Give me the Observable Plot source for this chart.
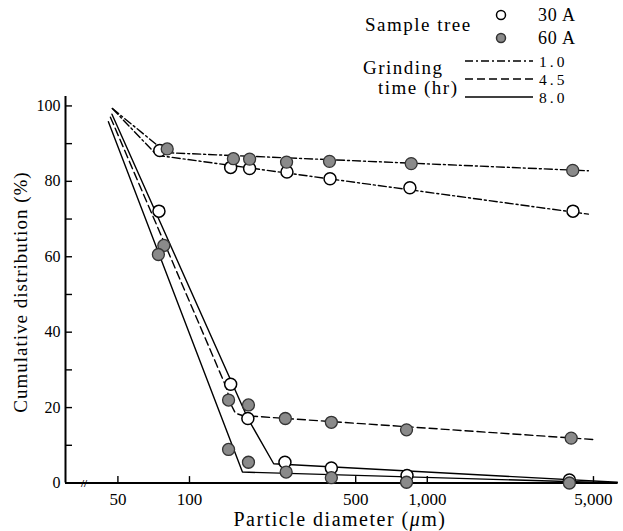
<!DOCTYPE html>
<html><head><meta charset="utf-8">
<script src="https://cdn.jsdelivr.net/npm/d3@7"></script>
<script src="https://cdn.jsdelivr.net/npm/@observablehq/plot@0.6"></script>
<style>
body{margin:0;background:#fff;}
#wrap{position:relative;width:623px;height:531px;}
#wrap svg, #wrap svg text{font-family:"Liberation Serif","Times New Roman","DejaVu Serif",serif !important;}
</style></head><body><div id="wrap"></div>
<script>
// Axis ticks
const xTicks = [50, 100, 500, 1000, 5000];
const yTicks = [0, 10, 20, 30, 40, 50, 60, 70, 80, 90, 100];
const yLabels = [0, 20, 40, 60, 80, 100];
const xDomain = [30.1, 6310];
const yDomain = [0, 102.5];
const breakX = [36];

// Legend entries
const sampleTrees = ["30 A", "60 A"];
const grindingTimes = ["1.0", "4.5", "8.0"];

// Measured points (particle diameter um, cumulative %)
const open10X = [75, 149, 179, 257, 390, 845, 4100];
const open10Y = [88.2, 83.7, 83.4, 82.5, 80.7, 78.3, 72.1];
const open80X = [74.4, 149, 176, 252, 395, 822, 3960];
const open80Y = [72.1, 26.2, 17.1, 5.5, 4.0, 2.0, 0.8];
const gray10X = [80.6, 153, 179, 256, 388, 856, 4090];
const gray10Y = [88.6, 86.0, 85.9, 85.1, 85.3, 84.7, 82.9];
const gray45X = [78, 146, 177, 253, 395, 818, 4030];
const gray45Y = [63, 22.0, 20.7, 17.1, 16.1, 14.1, 11.9];
const gray80X = [74, 146, 177, 255, 395, 818, 3960];
const gray80Y = [60.6, 8.9, 5.5, 2.9, 1.4, 0.2, 0];

// Fitted lines
const fit10aX = [47.4, 80, 4760];   const fit10aY = [99.3, 87.6, 82.8];   // 60 A, 1.0 hr
const fit10bX = [47.4, 73, 4760];   const fit10bY = [99.3, 86.9, 71.3];   // 30 A, 1.0 hr
const fit45X = [46.5, 143, 149, 156, 167, 5100]; const fit45Y = [97.0, 25.3, 21, 18.5, 17.9, 11.5];
const fit80aX = [45.6, 167, 6300];  const fit80aY = [95.8, 2.9, 0];       // 60 A, 8.0 hr
const fit80bX = [47.2, 176, 226, 6300]; const fit80bY = [97.8, 17.1, 5.1, 0.2]; // 30 A, 8.0 hr

const rows = (xs, ys, id) => xs.map((x, i) => ({x, y: ys[i], id}));
const openPts = [...rows(open10X, open10Y, "o1"), ...rows(open80X, open80Y, "o8")];
const grayPts = [...rows(gray10X, gray10Y, "g1"), ...rows(gray45X, gray45Y, "g45"), ...rows(gray80X, gray80Y, "g8")];
const dashDotLines = [...rows(fit10aX, fit10aY, "a"), ...rows(fit10bX, fit10bY, "b")];
const dashedLines = rows(fit45X, fit45Y, "c");
const solidLines = [...rows(fit80aX, fit80aY, "d"), ...rows(fit80bX, fit80bY, "e")];

const DASHDOT = "8,3,2,3", DASHED = "8,4";
const font = "Liberation Serif";
const yTickEnd = xDomain[0] * Math.pow(10, 7 / 237.85); // inward tick length (~7px)

const plot = Plot.plot({
  width: 623, height: 531,
  marginLeft: 65, marginRight: 6, marginTop: 96, marginBottom: 48.5,
  style: {fontFamily: font, background: "white", color: "black"},
  x: {type: "log", domain: xDomain, axis: null},
  y: {domain: yDomain, axis: null},
  marks: [
    // inward ticks
    Plot.ruleX(xTicks, {x: d => d, y1: 0, y2: 1.7, strokeWidth: 1.4}),
    Plot.ruleY(yTicks, {y: d => d, x1: xDomain[0], x2: yTickEnd, strokeWidth: 1.4}),
    // tick labels
    Plot.text(xTicks, {x: d => d, y: 0, dy: 17, text: d3.format(","), fontSize: 17, lineAnchor: "middle"}),
    Plot.text(yLabels, {x: xDomain[0], y: d => d, dx: -5, text: d => String(d), textAnchor: "end", fontSize: 16}),
    // axis lines
    Plot.ruleX([xDomain[0]], {strokeWidth: 2}),
    Plot.ruleY([0], {strokeWidth: 2}),
    Plot.text(breakX, {x: d => d, y: 0, text: () => "//", fontSize: 11, fontWeight: "bold"}),
    // fitted lines
    Plot.line(dashDotLines, {x: "x", y: "y", z: "id", stroke: "black", strokeWidth: 1.4, strokeDasharray: DASHDOT}),
    Plot.line(dashedLines, {x: "x", y: "y", z: "id", stroke: "black", strokeWidth: 1.4, strokeDasharray: DASHED}),
    Plot.line(solidLines, {x: "x", y: "y", z: "id", stroke: "black", strokeWidth: 1.4}),
    // measured points
    Plot.dot(openPts, {x: "x", y: "y", r: 6, fill: "white", stroke: "black", strokeWidth: 1.5}),
    Plot.dot(grayPts, {x: "x", y: "y", r: 6, fill: "#8a8a8a", stroke: "#333", strokeWidth: 1.3})
  ]
});
document.getElementById("wrap").appendChild(plot);

const svg = d3.select(plot);
// Axis titles
const xl = svg.append("text").attr("x", 340).attr("y", 526).attr("text-anchor", "middle")
  .attr("font-size", 20).attr("letter-spacing", 1.5);
xl.append("tspan").text("Particle diameter (");
xl.append("tspan").attr("font-style", "italic").text("μ");
xl.append("tspan").text("m)");
svg.append("text").attr("transform", "translate(27,292) rotate(-90)").attr("text-anchor", "middle")
  .attr("font-size", 19).attr("letter-spacing", 1.0)
  .text("Cumulative distribution (%)");

// Legend
const lg = svg.append("g").attr("font-size", 18).attr("text-anchor", "start");
lg.append("text").attr("x", 365).attr("y", 31).attr("font-size", 19).attr("letter-spacing", 1.5).text("Sample tree");
const symY = [15, 38];
sampleTrees.forEach((t, i) => {
  lg.append("circle").attr("cx", 501).attr("cy", symY[i]).attr("r", 4.5)
    .attr("fill", i === 0 ? "white" : "#8a8a8a").attr("stroke", i === 0 ? "black" : "#333").attr("stroke-width", 1.5);
  lg.append("text").attr("x", 538).attr("y", symY[i] + 6).attr("letter-spacing", 0.8).text(t);
});
lg.append("text").attr("x", 363).attr("y", 74).attr("font-size", 19).attr("letter-spacing", 1.5).text("Grinding");
lg.append("text").attr("x", 378).attr("y", 94).attr("font-size", 19).attr("letter-spacing", 1.5).text("time (hr)");
const lineY = [61, 79, 97];
const dashes = [DASHDOT, DASHED, null];
grindingTimes.forEach((t, i) => {
  lg.append("line").attr("x1", 465).attr("x2", 533).attr("y1", lineY[i]).attr("y2", lineY[i])
    .attr("stroke", "black").attr("stroke-width", 1.4).attr("stroke-dasharray", dashes[i]);
  lg.append("text").attr("x", 539).attr("y", lineY[i] + 5.5).attr("font-size", 15.5)
    .attr("letter-spacing", 3).text(t);
});
</script></body></html>
